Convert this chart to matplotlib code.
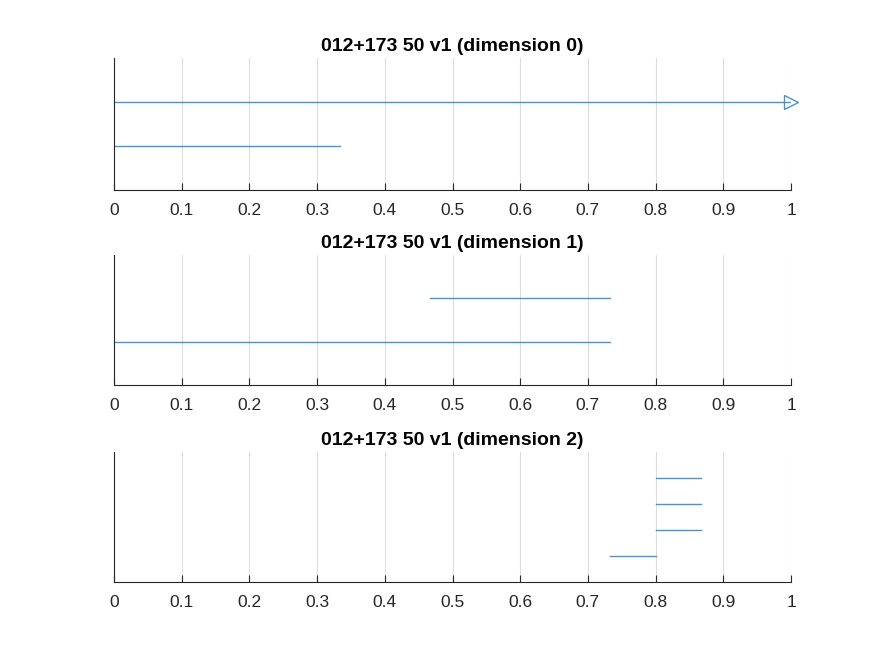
import numpy as np
import matplotlib
matplotlib.use('Agg')
import matplotlib.pyplot as plt

plt.rcParams['font.family'] = ['Liberation Sans', 'DejaVu Sans']

# barcode intervals per dimension (birth, death); np.inf = never dies
titles = ['012+173 50 v1 (dimension 0)',
          '012+173 50 v1 (dimension 1)',
          '012+173 50 v1 (dimension 2)']
dim0_birth = [0.0, 0.0]
dim0_death = [0.3333, np.inf]
dim1_birth = [0.0, 0.4667]
dim1_death = [0.7333, 0.7333]
dim2_birth = [0.7333, 0.8, 0.8, 0.8]
dim2_death = [0.8, 0.8667, 0.8667, 0.8667]

births = [dim0_birth, dim1_birth, dim2_birth]
deaths = [dim0_death, dim1_death, dim2_death]
x_max = 1.0
xticks = np.round(np.arange(0, 1.01, 0.1), 1)
xticklabels = ['0', '0.1', '0.2', '0.3', '0.4', '0.5', '0.6', '0.7', '0.8', '0.9', '1']

BAR_COLOR = '#4a93cd'
AX_COLOR = '#262626'

fig = plt.figure(figsize=(8.75, 6.56), dpi=100)
positions = [[0.1303, 0.7104, 0.7737, 0.2012],
             [0.1303, 0.4131, 0.7737, 0.1982],
             [0.1303, 0.1128, 0.7737, 0.1982]]

for i in range(3):
    ax = fig.add_axes(positions[i])
    b = births[i]
    d = deaths[i]
    n = len(b)
    for k in range(n):
        y = k + 1
        end = d[k]
        if np.isinf(end):
            ax.plot([b[k], x_max], [y, y], color=BAR_COLOR, lw=1.0)
            ax.plot([x_max], [y], marker='>', markersize=10, markerfacecolor='none',
                    markeredgecolor=BAR_COLOR, markeredgewidth=1.0, clip_on=False)
        else:
            ax.plot([b[k], end], [y, y], color=BAR_COLOR, lw=1.0)
    ax.set_xlim(0, x_max)
    ax.set_ylim(0, n + 1)
    ax.set_xticks(xticks)
    ax.set_xticklabels(xticklabels)
    ax.set_yticks([])
    ax.grid(axis='x', color='#dcdcdc', lw=0.8)
    ax.set_axisbelow(True)
    ax.spines['top'].set_visible(False)
    ax.spines['right'].set_visible(False)
    for s in ['left', 'bottom']:
        ax.spines[s].set_color(AX_COLOR)
        ax.spines[s].set_linewidth(0.8)
    ax.tick_params(axis='x', direction='in', length=5, width=0.8, colors=AX_COLOR,
                   labelsize=12.5, pad=9.5)
    ax.set_title(titles[i], fontsize=14, fontweight='bold', color='black', pad=5)

fig.savefig('out.png', dpi=100)
